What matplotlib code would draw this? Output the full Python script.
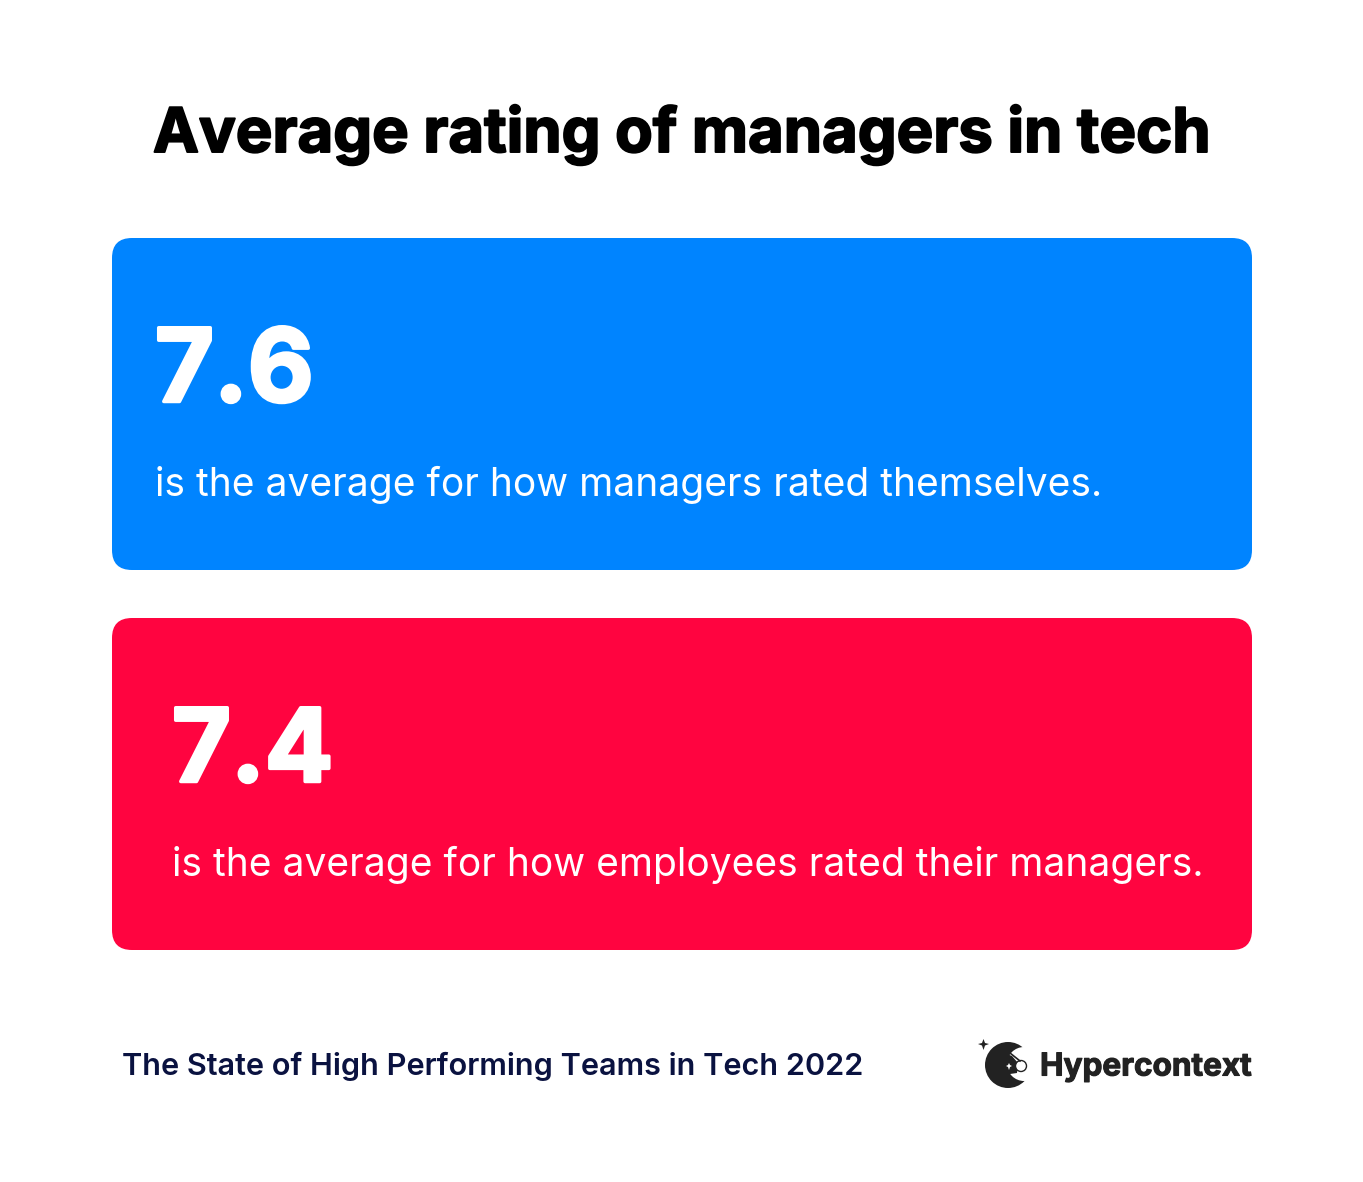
import matplotlib
matplotlib.use("Agg")
import matplotlib.pyplot as plt
from matplotlib.patches import FancyBboxPatch, Circle, Polygon
import matplotlib.patheffects as pe

W, H = 1363, 1182

title = "Average rating of managers in tech"
values = ["7.6", "7.4"]
captions = ["is the average for how managers rated themselves.",
            "is the average for how employees rated their managers."]
card_colors = ["#0084FF", "#FF0440"]
source = "The State of High Performing Teams in Tech 2022"
brand = "Hypercontext"

plt.rcParams['font.family'] = ['Inter', 'DejaVu Sans']

fig = plt.figure(figsize=(W / 100, H / 100), dpi=100)
ax = fig.add_axes([0, 0, 1, 1])
ax.set_xlim(0, W)
ax.set_ylim(H, 0)
ax.axis("off")


def heavier(width, color):
    return [pe.withStroke(linewidth=width, foreground=color)]


ax.text(682, 135, title, fontsize=44.3, fontweight="bold", color="black", ha="center", va="center",
        path_effects=heavier(1.4, "black"))

# cards
tops = [238, 618]
text_x = [155, 172]
for i in range(2):
    card = FancyBboxPatch((112 + 20, tops[i] + 20), 1140 - 40, 332 - 40,
                          boxstyle="round,pad=20,rounding_size=20",
                          fc=card_colors[i], ec="none")
    ax.add_patch(card)
    ax.text(text_x[i], tops[i] + 137, values[i], fontsize=73, fontweight="bold", color="white",
            ha="left", va="center", path_effects=heavier(2.5, "white"))
    ax.text(text_x[i], tops[i] + 247, captions[i], fontsize=28.05, color="white",
            ha="left", va="center")

ax.text(122, 1066, source, fontsize=22.05, fontweight="semibold", color="#0A1240", ha="left", va="center")

# logo
ink = "#222222"
ax.add_patch(Circle((1008, 1065), 23, fc=ink, ec="none"))
ax.add_patch(Circle((1024, 1064), 17, fc="white", ec="none"))
ax.add_patch(Polygon([[1002, 1072], [1001, 1062], [1007, 1054], [1012, 1056], [1018, 1063],
                      [1017, 1073], [1003, 1075]], fc=ink, ec="none"))
ax.add_patch(Polygon([[1009, 1063], [1010, 1065], [1012, 1066], [1010, 1067], [1009, 1070],
                      [1008, 1067], [1006, 1066], [1008, 1065]], fc="white", ec="none"))
ax.add_patch(Circle((1021, 1066), 5.5, fc="white", ec=ink, lw=1))
ax.plot([1010, 1020], [1053, 1061], color=ink, lw=1.2)
ax.add_patch(Polygon([[978, 1044], [982, 1043], [983.5, 1039], [985, 1043], [989, 1044], [985, 1045.5],
                      [983.5, 1050], [982, 1045.5]], fc=ink, ec="none"))
ax.text(1040, 1067, brand, fontsize=22.7, fontweight="bold", color=ink, ha="left", va="center",
        path_effects=heavier(0.8, ink))

fig.savefig("out.png", dpi=100)
